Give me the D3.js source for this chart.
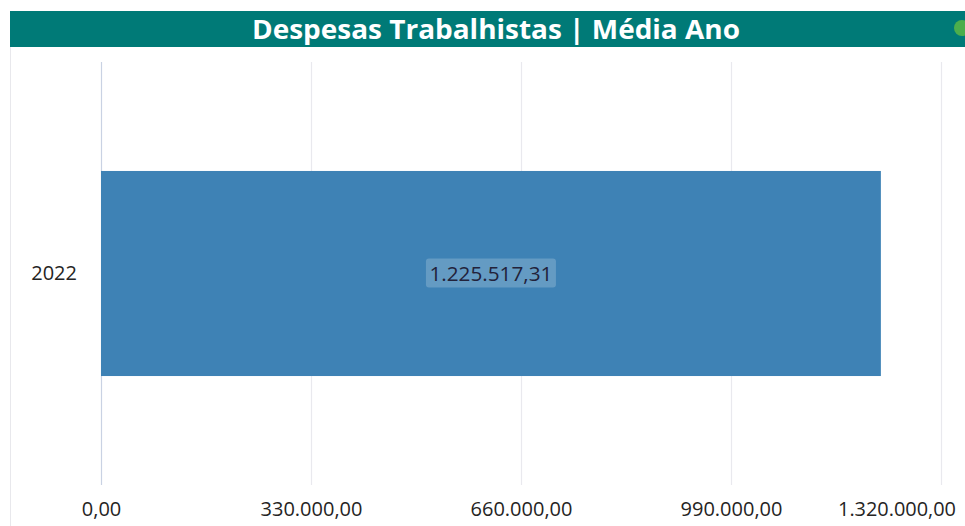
<!DOCTYPE html>
<html><head><meta charset="utf-8">
<script src="https://cdn.jsdelivr.net/npm/d3@7/dist/d3.min.js"></script>
<style>body{margin:0;background:#fff;overflow:hidden}svg{display:block}</style>
</head><body>
<svg id="c" width="965" height="526"></svg>
<script>
const categories = ["2022"];
const values = [1225517.31];
const tickValues = [0, 330000, 660000, 990000, 1320000];
const title = "Despesas Trabalhistas | Média Ano";

const svg = d3.select("#c");
const fmt = v => {
  const s = d3.format(",.2f")(v);
  return s.replace(/,/g, "#").replace(/\./g, ",").replace(/#/g, ".");
};
const FONT = "Open Sans, sans-serif";

// header
svg.append("rect").attr("x", 10).attr("y", 11).attr("width", 955).attr("height", 36).attr("fill", "#007A77");
svg.append("text").attr("x", 496).attr("y", 39).attr("text-anchor", "middle")
  .attr("font-family", FONT).attr("font-weight", 700).attr("font-size", 26)
  .attr("fill", "#fff").attr("textLength", 488).attr("lengthAdjust", "spacingAndGlyphs").text(title);
svg.append("circle").attr("cx", 962).attr("cy", 28).attr("r", 8).attr("fill", "#4cae4c");
// left border
svg.append("line").attr("x1", 10.5).attr("x2", 10.5).attr("y1", 47).attr("y2", 526).attr("stroke", "#e8e8ec");

const x = d3.scaleLinear().domain([0, 1320000]).range([101, 941]);
const y = d3.scaleBand().domain(categories).range([62, 485]).paddingInner(0.347).paddingOuter(0.347);

// grid
svg.append("g").selectAll("line").data(tickValues).join("line")
  .attr("x1", d => x(d) + 0.5).attr("x2", d => x(d) + 0.5).attr("y1", 62).attr("y2", 485)
  .attr("stroke", (d, i) => i === 0 ? "#c9d2e3" : "#e9e9ee").attr("stroke-width", 1.2);

// x axis labels
const xa = svg.append("g").attr("transform", "translate(0,485)")
  .call(d3.axisBottom(x).tickValues(tickValues).tickFormat(fmt).tickSize(0).tickPadding(17));
xa.select(".domain").remove();
xa.selectAll("text").attr("font-family", FONT).attr("font-size", 20).attr("fill", "#252423")
  .attr("textLength", function() { return this.textContent.length > 10 ? 118 : null; })
  .attr("lengthAdjust", "spacingAndGlyphs");
// keep labels inside the visual (shift the last one left like the original)
xa.selectAll(".tick text").each(function() {
  const b = this.getBBox();
  const tr = this.parentNode.transform.baseVal.consolidate().matrix.e;
  const right = tr + b.x + b.width;
  if (right > 956) d3.select(this).attr("x", 956 - right);
});

// y axis labels
const ya = svg.append("g").attr("transform", "translate(77,0)")
  .call(d3.axisLeft(y).tickSize(0).tickPadding(0));
ya.select(".domain").remove();
ya.selectAll("text").attr("font-family", FONT).attr("font-size", 20).attr("fill", "#252423");

// bars
svg.append("g").selectAll("rect").data(values).join("rect")
  .attr("x", x(0)).attr("y", (d, i) => y(categories[i]))
  .attr("width", d => x(d) - x(0)).attr("height", y.bandwidth())
  .attr("fill", "#3E82B5");

// labels
const lg = svg.append("g").selectAll("g").data(values).join("g");
lg.each(function(d, i) {
  const g = d3.select(this);
  const cx = (x(0) + x(d)) / 2;
  const cy = y(categories[i]) + y.bandwidth() / 2;
  g.append("text").attr("x", cx).attr("y", cy).attr("dy", "0.35em").attr("text-anchor", "middle")
    .attr("font-family", FONT).attr("font-size", 20).attr("fill", "#22223a")
    .attr("textLength", 123).attr("lengthAdjust", "spacingAndGlyphs").text(fmt(d));
  g.insert("rect", "text").attr("x", cx - 65).attr("y", cy - 15).attr("width", 130).attr("height", 29)
    .attr("rx", 3).attr("fill", "#ffffff").attr("fill-opacity", 0.2);
});
</script>
</body></html>
